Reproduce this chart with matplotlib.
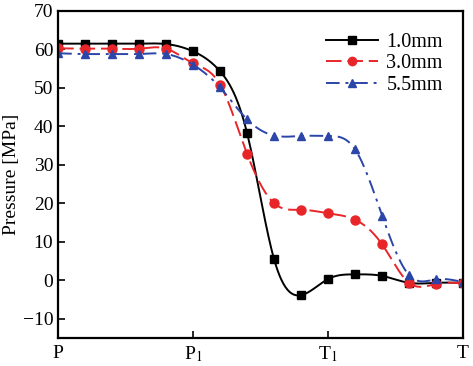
import numpy as np
import matplotlib
matplotlib.use("Agg")
import matplotlib.pyplot as plt

# Sample positions along the path P -> P1 -> T1 -> T
positions = np.arange(16)
tick_pos = [0, 5, 10, 15]
tick_labels = ["P", "P$_1$", "T$_1$", "T"]

p_1mm = [61.5, 61.5, 61.5, 61.5, 61.4, 59.5, 54.3, 38.2, 5.4, -3.9,
         0.3, 1.5, 1.1, -0.7, -0.7, -0.7]
p_3mm = [60.3, 60.2, 60.2, 60.2, 60.2, 56.4, 50.8, 32.8, 20.0, 18.3,
         17.4, 15.7, 9.3, -0.7, -1.0, -0.8]
p_55mm = [59.0, 58.8, 58.8, 58.8, 58.8, 56.0, 50.1, 41.8, 37.6, 37.5,
          37.5, 34.0, 16.8, 1.3, 0.2, -0.5]
labels = ["1.0mm", "3.0mm", "5.5mm"]


def smooth(x, y, n=400):
    """Natural cubic spline through the points (drawing only)."""
    x = np.asarray(x, float)
    y = np.asarray(y, float)
    k = len(x)
    h = np.diff(x)
    A = np.zeros((k, k))
    b = np.zeros(k)
    A[0, 0] = A[-1, -1] = 1.0
    for i in range(1, k - 1):
        A[i, i - 1] = h[i - 1]
        A[i, i] = 2 * (h[i - 1] + h[i])
        A[i, i + 1] = h[i]
        b[i] = 6 * ((y[i + 1] - y[i]) / h[i] - (y[i] - y[i - 1]) / h[i - 1])
    m = np.linalg.solve(A, b)
    xs = np.linspace(x[0], x[-1], n)
    idx = np.clip(np.searchsorted(x, xs) - 1, 0, k - 2)
    x0, x1 = x[idx], x[idx + 1]
    hh = x1 - x0
    t0, t1 = x1 - xs, xs - x0
    ys = (m[idx] * t0 ** 3 + m[idx + 1] * t1 ** 3) / (6 * hh) \
        + (y[idx] / hh - m[idx] * hh / 6) * t0 \
        + (y[idx + 1] / hh - m[idx + 1] * hh / 6) * t1
    return xs, ys


plt.rcParams["font.family"] = ["Liberation Serif", "DejaVu Serif"]
plt.rcParams["mathtext.fontset"] = "stix"

fig = plt.figure(figsize=(4.73, 3.66), dpi=100)
ax = fig.add_axes([0.123, 0.077, 0.856, 0.893])

styles = [
    dict(color="black", ls="-", marker="s"),
    dict(color="#e8262a", ls=(0, (8, 3)), marker="o"),
    dict(color="#2b45a8", ls=(0, (7, 3, 1.5, 3)), marker="^"),
]
for data, lab, st in zip([p_1mm, p_3mm, p_55mm], labels, styles):
    xs, ys = smooth(positions, data)
    ax.plot(xs, ys, color=st["color"], ls=st["ls"], lw=1.4)
    ax.plot(positions, data, ls="none", marker=st["marker"], color=st["color"],
            ms=6 if st["marker"] != "o" else 6.5)
    ax.plot([], [], color=st["color"], ls=st["ls"], lw=1.4,
            marker=st["marker"], ms=6, label=lab)

ax.set_xlim(0, 15)
ax.set_ylim(-15, 70)
ax.set_yticks(range(-10, 71, 10))
ax.set_xticks(tick_pos)
ax.set_xticklabels(tick_labels)
ax.tick_params(direction="in", labelsize=14, length=5, width=1.2)
ax.tick_params(axis="x", pad=5)
for s in ax.spines.values():
    s.set_linewidth(1.6)
ax.set_ylabel("Pressure [MPa]", fontsize=14, labelpad=2)

ax.legend(loc="upper right", frameon=False, fontsize=14.5, handlelength=2.6,
          handletextpad=0.4, labelspacing=0.12, borderaxespad=0.6,
          bbox_to_anchor=(1.0, 0.995))

fig.savefig("out.png", dpi=100)
